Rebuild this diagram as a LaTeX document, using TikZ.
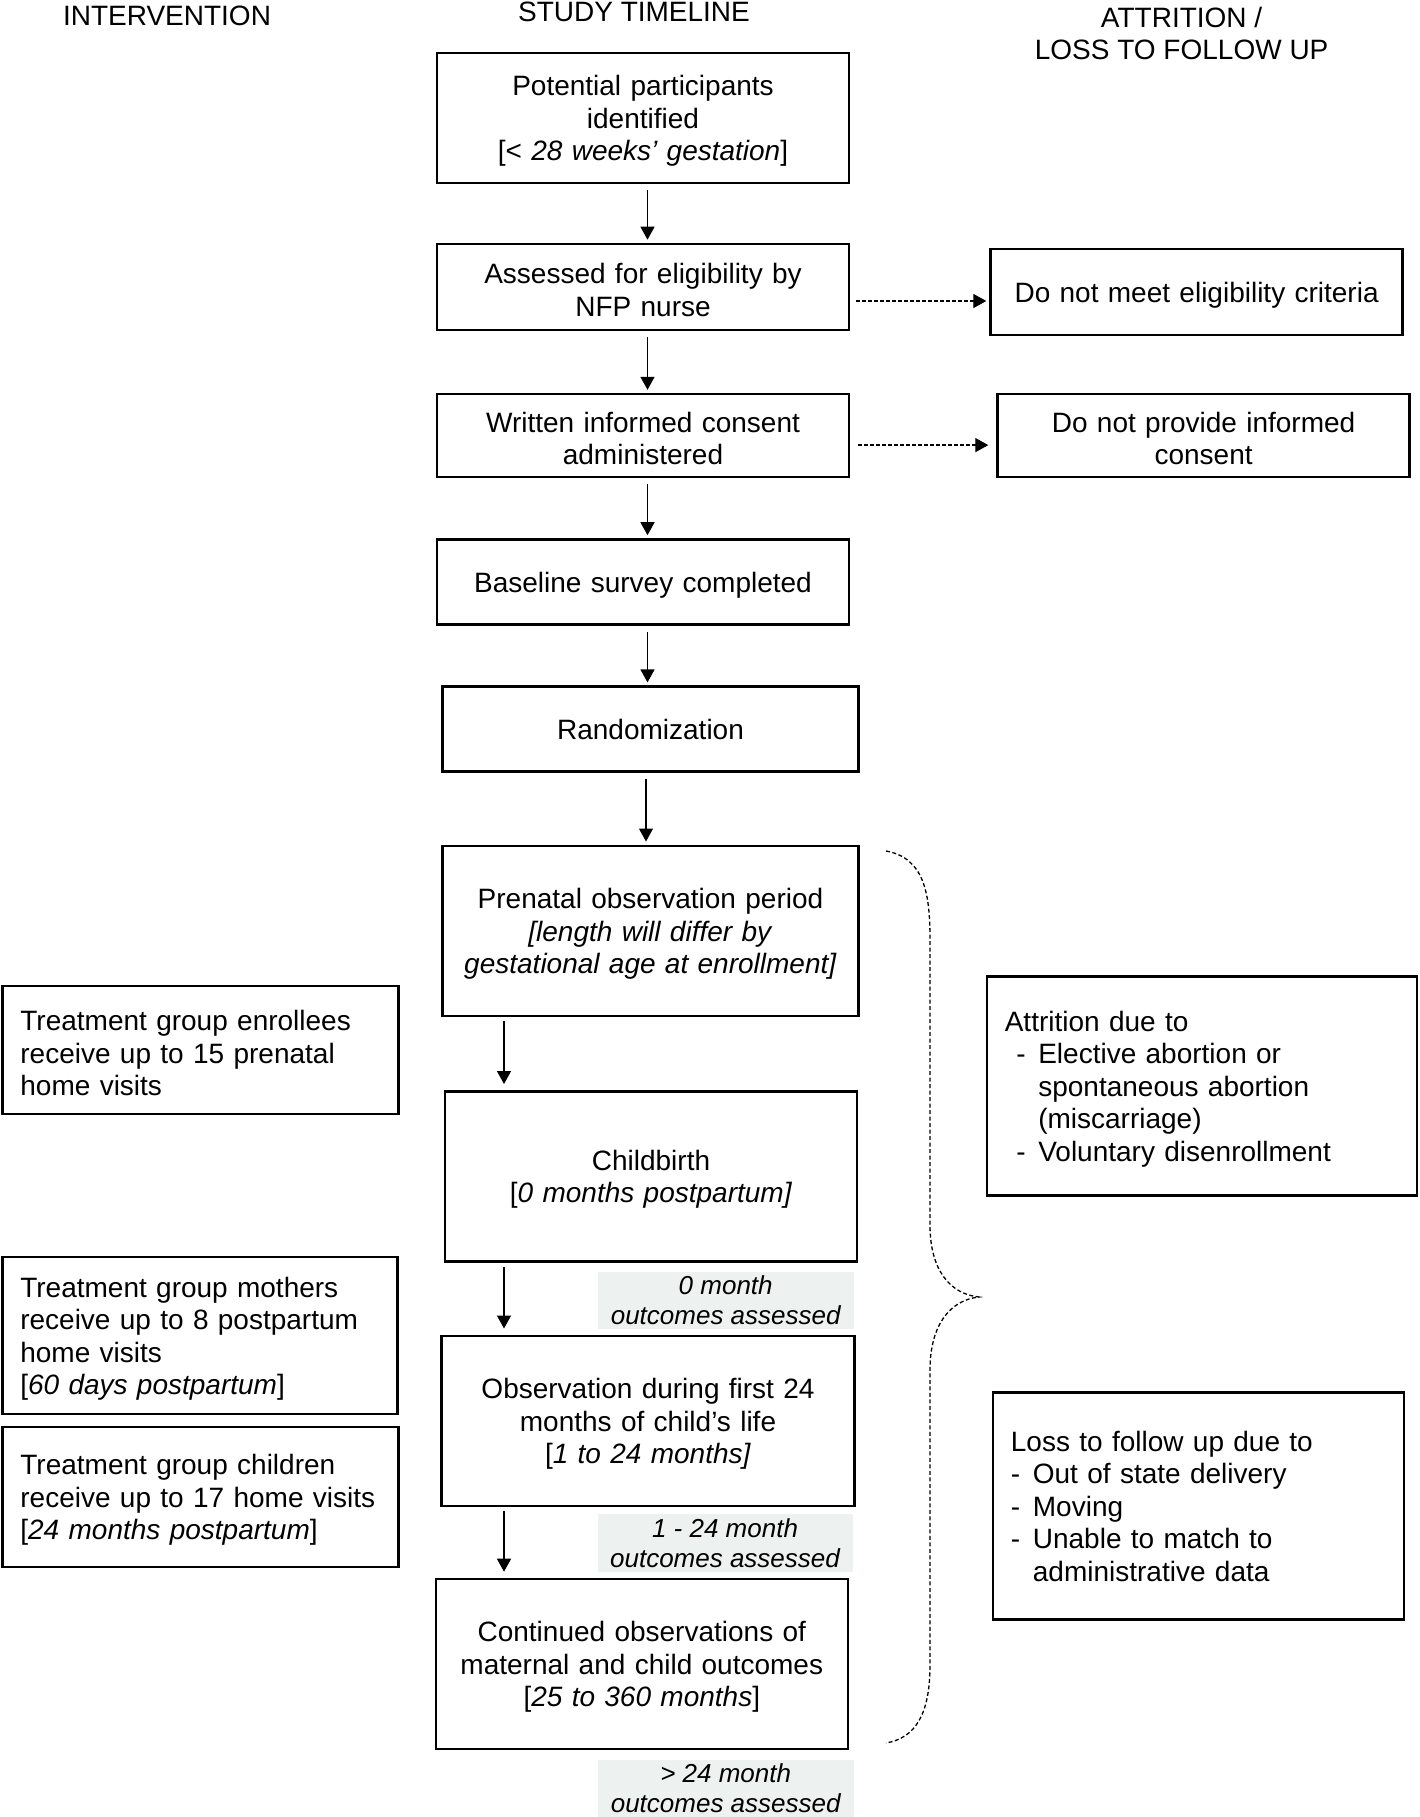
\documentclass[tikz,border=0pt]{standalone}
\usepackage{fontspec}
\setmainfont{Liberation Sans}
\usetikzlibrary{arrows.meta, positioning}
\definecolor{greyfill}{RGB}{237,242,240}

\begin{document}
\begin{tikzpicture}[x=1pt,y=-1pt,
  rawbox/.style={draw,line width=2.6pt,align=center,inner sep=0pt,text width=#1,font=\fontsize{28}{32.5}\selectfont},
  box/.style={rawbox=#1,execute at begin node={\rule{0pt}{26.5pt}}},
  sidebox/.style={box=#1,align=left,inner xsep=18pt},
  greybox/.style={fill=greyfill,inner sep=0pt,align=center,font=\fontsize{26}{30}\selectfont\itshape},
  heading/.style={align=center,font=\fontsize{28}{32.5}\selectfont},
  flow/.style={line width=1.3pt,-{Triangle[length=13pt,width=14pt]}},
  drop/.style={flow,dash pattern=on 4pt off 2pt}]
\useasboundingbox (0,0) rectangle (1419,1817);
% headings
\node[heading] (headint) at (167,16) {INTERVENTION};
\node[heading] (headtime) at (634,11.6) {STUDY TIMELINE};
\node[heading] (headloss) at (1181.6,33.6) {ATTRITION /\\LOSS TO FOLLOW UP};
% study timeline
\node[box=412pt,minimum height=130pt] (pot) at (643,118) {Potential participants\\identified\\{}[< \textit{28 weeks’ gestation}]};
\node[box=412pt,minimum height=86pt] (assess) at (643,287) {Assessed for eligibility by\\NFP nurse};
\node[box=412pt,minimum height=83pt] (consent) at (643,435.6) {Written informed consent\\administered};
\node[box=412pt,minimum height=85pt] (baseline) at (643,582) {Baseline survey completed};
\node[rawbox=416pt,minimum height=85pt] (random) at (650.5,729.2) {Randomization};
\node[box=416pt,minimum height=170pt] (prenatal) at (650.5,930.8) {Prenatal observation period\\\textit{[length will differ by}\\\textit{gestational age at enrollment]}};
\node[box=412pt,minimum height=170pt] (childbirth) at (651,1176.3) {Childbirth\\{}[\textit{0 months postpartum]}};
\node[box=413pt,minimum height=170pt] (observation) at (648,1420.8) {Observation during first 24\\months of child’s life\\{}[\textit{1 to 24 months]}};
\node[box=412pt,minimum height=170pt] (continued) at (641.8,1664) {Continued observations of\\maternal and child outcomes\\{}[\textit{25 to 360 months}]};
% outcomes
\node[greybox,minimum width=256pt,minimum height=57pt] (outzero) at (725.7,1300.5) {0 month\\outcomes assessed};
\node[greybox,minimum width=255pt,minimum height=58pt] (outearly) at (725,1543) {1 - 24 month\\outcomes assessed};
\node[greybox,minimum width=256pt,minimum height=58pt] (outlate) at (725.7,1788.5) {> 24 month\\outcomes assessed};
% intervention
\node[sidebox=360pt,minimum height=128pt] (enrollees) at (200.4,1050) {Treatment group enrollees\\receive up to 15 prenatal\\home visits};
\node[sidebox=359pt,minimum height=157pt] (mothers) at (199.8,1335.6) {Treatment group mothers\\receive up to 8 postpartum\\home visits\\{}[\textit{60 days postpartum}]};
\node[sidebox=360pt,minimum height=140pt] (children) at (200.4,1497) {Treatment group children\\receive up to 17 home visits\\{}[\textit{24 months postpartum}]};
% attrition
\node[box=412pt,minimum height=86pt] (notmeet) at (1196.6,292) {Do not meet eligibility criteria};
\node[box=412pt,minimum height=83pt] (noconsent) at (1203.6,435.6) {Do not provide informed\\consent};
\node[sidebox=394pt,minimum height=219pt] (attrition) at (1201.8,1086) {Attrition due to\\\makebox[33.5pt][l]{\hspace{11.5pt}-}Elective abortion or\\\hspace*{33.5pt}spontaneous abortion\\\hspace*{33.5pt}(miscarriage)\\\makebox[33.5pt][l]{\hspace{11.5pt}-}Voluntary disenrollment};
\node[rawbox=375pt,align=left,inner xsep=18pt,minimum height=227pt] (loss) at (1198.4,1506) {Loss to follow up due to\\\makebox[22pt][l]{-}Out of state delivery\\\makebox[22pt][l]{-}Moving\\\makebox[22pt][l]{-}Unable to match to\\\hspace*{22pt}administrative data};
% connectors
\foreach \a/\b in {pot/assess,assess/consent,consent/baseline,baseline/random}
  \draw[flow,shorten <=6pt,shorten >=3pt] ([xshift=4.5pt]\a.south) -- ([xshift=4.5pt]\a.south |- \b.north);
\draw[flow,shorten <=6pt,shorten >=3pt] ([xshift=-4.5pt]random.south) -- ([xshift=-4.5pt]random.south |- prenatal.north);
\coordinate (lane) at (504,0);
\foreach \a/\b in {prenatal/childbirth,childbirth/observation,observation/continued}
  \draw[flow,shorten <=4pt,shorten >=6pt] (\a.south -| lane) -- (\b.north -| lane);
\draw[drop,shorten <=6pt,shorten >=3pt] ([yshift=-14pt]assess.east) -- ([yshift=-14pt]assess.east -| notmeet.west);
\draw[drop,shorten <=8pt,shorten >=8pt] ([yshift=-9.5pt]consent.east) -- ([yshift=-9.5pt]consent.east -| noconsent.west);
% brace
\draw[line width=1.3pt,dash pattern=on 4pt off 2.5pt]
  (886,851) .. controls (925,858) and (930,895) .. (930,940) -- (930,1225)
  .. controls (930,1270) and (950,1294) .. (979,1297)
  .. controls (950,1300) and (930,1325) .. (930,1370) -- (930,1665)
  .. controls (930,1715) and (915,1738) .. (886,1743);
\end{tikzpicture}
\end{document}
